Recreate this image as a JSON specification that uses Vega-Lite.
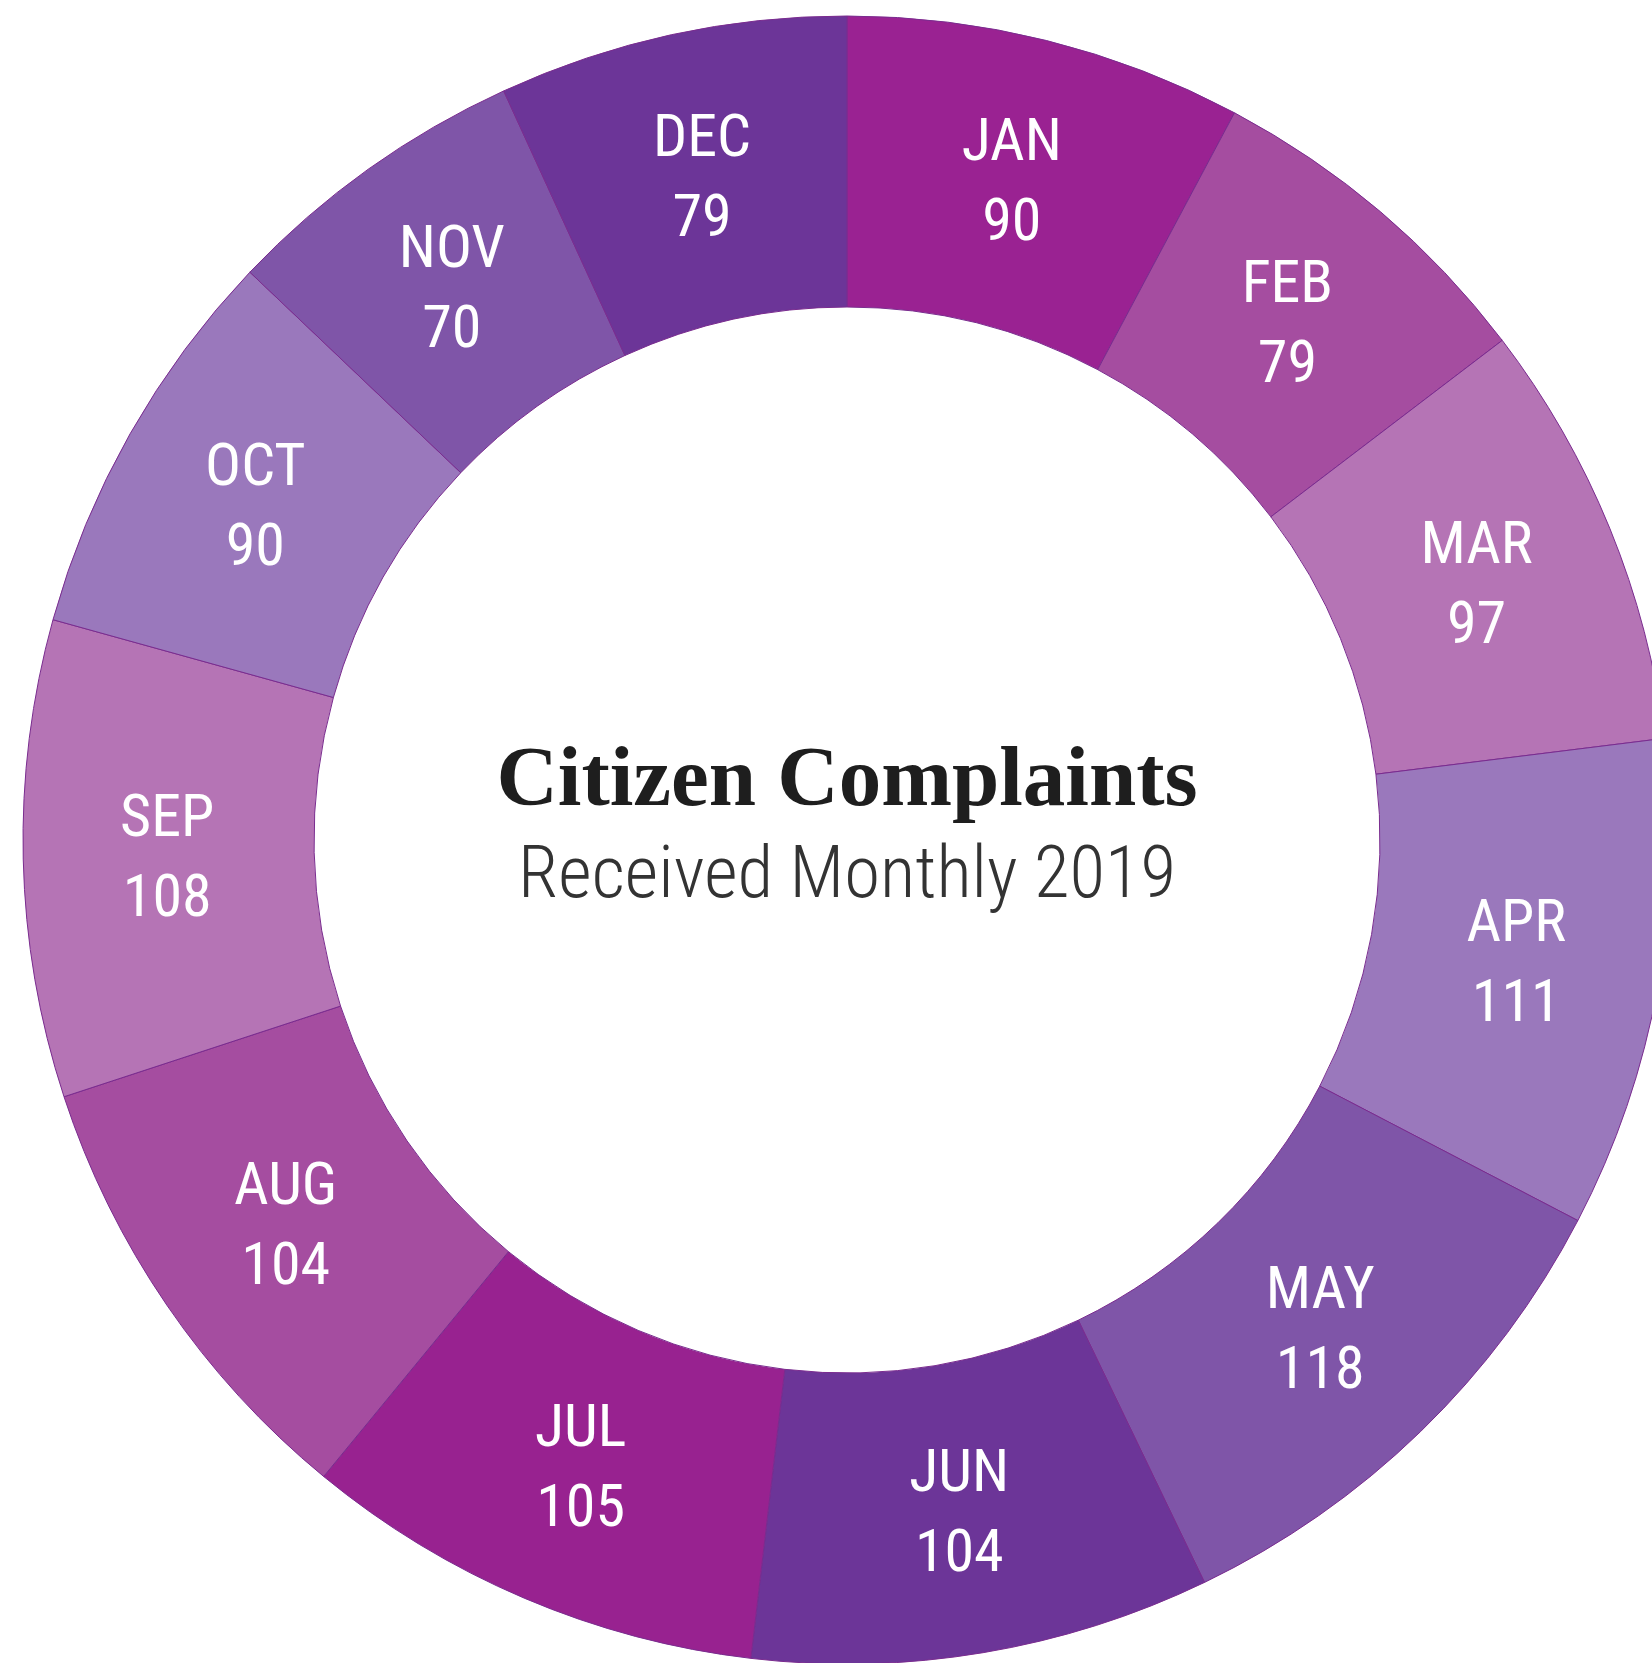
{
  "$schema": "https://vega.github.io/schema/vega-lite/v6.json",
  "width": 1610,
  "height": 1646,
  "autosize": {"type": "none"},
  "padding": {"left": 42, "top": 17, "right": 0, "bottom": 0},
  "background": "#ffffff",
  "view": {"stroke": null},
  "layer": [
    {
      "data": {"values": [
        {"month": "JAN", "m": 1, "count": 90},
        {"month": "FEB", "m": 2, "count": 79},
        {"month": "MAR", "m": 3, "count": 97},
        {"month": "APR", "m": 4, "count": 111},
        {"month": "MAY", "m": 5, "count": 118},
        {"month": "JUN", "m": 6, "count": 104},
        {"month": "JUL", "m": 7, "count": 105},
        {"month": "AUG", "m": 8, "count": 104},
        {"month": "SEP", "m": 9, "count": 108},
        {"month": "OCT", "m": 10, "count": 90},
        {"month": "NOV", "m": 11, "count": 70},
        {"month": "DEC", "m": 12, "count": 79}
      ]},
      "transform": [{"calculate": "datum.month + '\\n' + datum.count", "as": "label"}],
      "encoding": {
        "theta": {"field": "count", "type": "quantitative", "stack": true},
        "order": {"field": "m", "type": "quantitative"}
      },
      "layer": [
        {
          "mark": {"type": "arc", "radius": 824, "radius2": 533, "stroke": "#7a2c8f", "strokeWidth": 1},
          "encoding": {
            "color": {
              "field": "month", "type": "nominal", "legend": null,
              "sort": ["JAN","FEB","MAR","APR","MAY","JUN","JUL","AUG","SEP","OCT","NOV","DEC"],
              "scale": {
                "domain": ["JAN","FEB","MAR","APR","MAY","JUN","JUL","AUG","SEP","OCT","NOV","DEC"],
                "range": ["#9a2292","#a54da0","#b574b5","#9a78bc","#7f55a8","#6c3598","#982290","#a54da0","#b574b5","#9a78bc","#7f55a8","#6c3598"]
              }
            }
          }
        },
        {
          "mark": {"type": "text", "radius": 680, "dy": -38, "color": "#ffffff", "font": "Liberation Sans Narrow, Roboto Condensed, Arial Narrow, sans-serif", "fontSize": 60, "lineBreak": "\n", "lineHeight": 80, "align": "center", "baseline": "middle"},
          "encoding": {"text": {"field": "label", "type": "nominal"}}
        }
      ]
    },
    {
      "data": {"values": [{"title": "Citizen Complaints", "subtitle": "Received Monthly 2019"}]},
      "layer": [
        {
          "mark": {"type": "text", "font": "Liberation Serif", "fontWeight": "bold", "fontSize": 85, "color": "#1e1e1e", "align": "center", "baseline": "alphabetic", "dy": -35},
          "encoding": {"text": {"field": "title", "type": "nominal"}}
        },
        {
          "mark": {"type": "text", "font": "Roboto Condensed, Liberation Sans Narrow, sans-serif", "fontWeight": 300, "fontSize": 73, "color": "#333333", "align": "center", "baseline": "alphabetic", "dy": 57},
          "encoding": {"text": {"field": "subtitle", "type": "nominal"}}
        }
      ]
    }
  ]
}
